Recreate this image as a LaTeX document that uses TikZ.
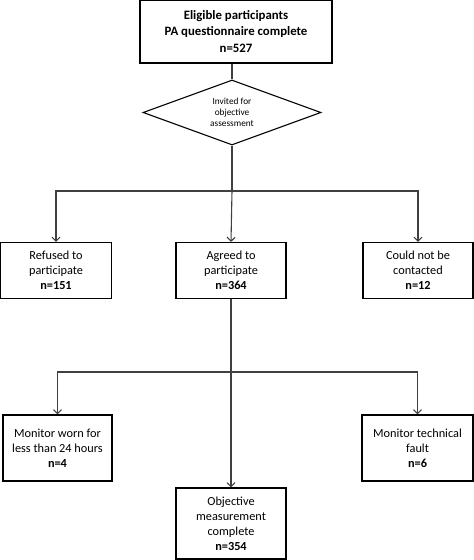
\documentclass[tikz,border=0pt]{standalone}
\usepackage{fontspec}
\setmainfont{Carlito}
\usetikzlibrary{shapes.geometric,arrows.meta}
\begin{document}
\begin{tikzpicture}[x=1pt,y=-1pt,
  box/.style={draw=black,line width=1.1pt,align=center,inner sep=0pt,font=\fontsize{12.3}{15}\selectfont},
  conn/.style={draw=black!75,line width=1.1pt},
  arr/.style={conn,-{Straight Barb[length=4pt,width=8pt]}}]
\useasboundingbox (0,0) rectangle (474,560);
\node[box,minimum width=192pt,minimum height=63pt,font=\fontsize{12.8}{16.5}\selectfont\bfseries] (top) at (236,31.5) {Eligible participants\\PA questionnaire complete\\n=527};
\node[diamond,draw=black,line width=1.1pt,aspect=2.7,minimum width=178pt,minimum height=65pt,inner sep=0pt,align=center,font=\fontsize{9.3}{11}\selectfont] (inv) at (232,112.5) {Invited for\\objective\\assessment};
\node[box,minimum width=111pt,minimum height=56pt] (ref) at (56,270.5) {Refused to\\participate\\\textbf{n=151}};
\node[box,minimum width=110pt,minimum height=56pt] (agr) at (231,270.5) {Agreed to\\participate\\\textbf{n=364}};
\node[box,minimum width=110pt,minimum height=56pt] (cnc) at (418,270.5) {Could not be\\contacted\\\textbf{n=12}};
\node[box,minimum width=109pt,minimum height=66pt] (worn) at (57.5,448) {Monitor worn for\\less than 24 hours\\\textbf{n=4}};
\node[box,minimum width=111pt,minimum height=66pt] (fault) at (417.5,448) {Monitor technical\\fault\\\textbf{n=6}};
\node[box,minimum width=110pt,minimum height=71pt] (obj) at (231,523.5) {Objective\\measurement\\complete\\\textbf{n=354}};
\coordinate (j1) at (232,191);
\coordinate (j2) at (231,372);
\draw[conn] (top.south -| inv.north) -- (inv.north);
\draw[conn] (inv.south) -- (j1);
\draw[arr] (j1) -| (ref.north);
\draw[arr] (j1) -| (cnc.north);
\draw[arr] (j1) -- (agr.north);
\draw[conn] (agr.south) -- (j2);
\draw[arr] (j2) -| (worn.north);
\draw[arr] (j2) -| (fault.north);
\draw[arr] (j2) -- (obj.north);
\end{tikzpicture}
\end{document}
